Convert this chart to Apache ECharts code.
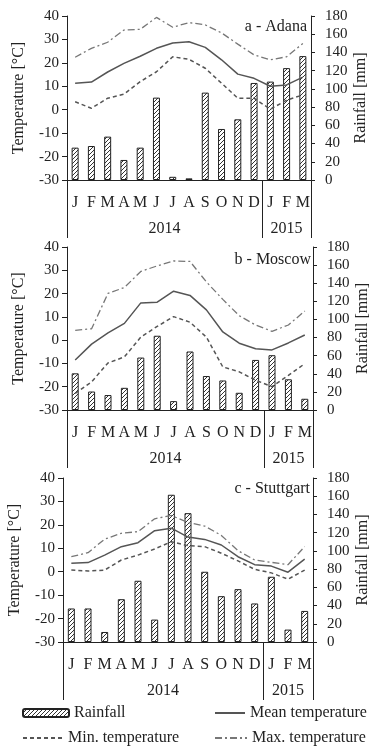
<!DOCTYPE html>
<html>
<head>
<meta charset="utf-8">
<script src="https://cdn.jsdelivr.net/npm/echarts@6/dist/echarts.min.js"></script>
<style>
  html, body { margin: 0; padding: 0; background: #fff; }
  #chart { width: 370px; height: 747px; }
</style>
</head>
<body>
<div id="chart"></div>
<script>
// Month initials along the bottom axis, Jan 2014 to Mar 2015
const months = ['J', 'F', 'M', 'A', 'M', 'J', 'J', 'A', 'S', 'O', 'N', 'D', 'J', 'F', 'M'];
const years = ['2014', '2015'];
const monthsPerYear = [12, 3];

const stations = ['a - Adana', 'b - Moscow', 'c - Stuttgart'];

// Axis ranges
const tempRange = [-30, 40];
const tempStep = 10;
const rainRange = [0, 180];
const rainStep = 20;

// Adana
const adanaRain = [35.5, 37.3, 47.6, 22, 35.5, 90.4, 3.5, 1.8, 95.9, 56, 66.6, 106.5, 108, 122.8, 136];
const adanaMean = [11.3, 11.8, 16.1, 19.8, 22.8, 26.2, 28.5, 29, 26.6, 21.3, 15.2, 13.4, 10, 10.6, 13.9];
const adanaMin = [3.4, 0.6, 4.9, 6.6, 12, 16.2, 22.6, 21.5, 17.7, 11.3, 4.9, 4.9, 0.2, 4.1, 6.3];
const adanaMax = [22.4, 26.2, 28.8, 34, 34.3, 39.4, 35.2, 37.2, 36.2, 32.8, 28, 23.4, 21.3, 22.6, 28.3];

// Moscow
const moscowRain = [40.5, 20.4, 16.5, 24.5, 57.9, 82, 9.8, 64.6, 37.5, 32.6, 19, 55.3, 60.5, 33.9, 12.4];
const moscowMean = [-8.5, -1.7, 3.1, 7.2, 16, 16.3, 21, 19.2, 13, 3.5, -1.3, -3.7, -4.2, -1.2, 2.2];
const moscowMin = [-22.9, -17.9, -9.8, -7.2, 1.3, 5.9, 10.1, 7.7, 1.3, -11.5, -13.6, -17.2, -20, -15.1, -10.1];
const moscowMax = [4.2, 4.9, 20.1, 22.6, 29.5, 31.9, 34, 33.8, 25, 17.5, 10.5, 6.5, 3.8, 6.5, 12.5];

// Stuttgart
const stuttgartRain = [36.8, 36.8, 11, 47, 67.2, 24.6, 161.6, 141.4, 77.1, 50.3, 58, 42.3, 71.6, 13.6, 34.1];
const stuttgartMean = [3.6, 3.9, 7.1, 10.7, 12.4, 17.5, 18.6, 14.8, 13.8, 11.4, 6.4, 3, 2.4, -0.2, 5.4];
const stuttgartMin = [0.7, 0.3, 0.7, 5, 7.1, 9.7, 12.8, 11.1, 10.7, 7.9, 4.6, 1, -0.5, -3.2, 0.7];
const stuttgartMax = [6.4, 8.1, 13.9, 16.4, 17.1, 22.6, 24, 21, 19.5, 15.5, 9, 5, 4, 3, 10.7];

const rainSets = [adanaRain, moscowRain, stuttgartRain];
const meanSets = [adanaMean, moscowMean, stuttgartMean];
const minSets = [adanaMin, moscowMin, stuttgartMin];
const maxSets = [adanaMax, moscowMax, stuttgartMax];

// Unique category keys (month letters repeat across the two years)
const categoryKeys = months.map((m, i) => 'm' + i);

const FONT = '"Liberation Serif", "Times New Roman", serif';
const INK = '#222';

// Diagonal hatch fill for the rainfall bars
function hatchPattern() {
  const s = 4;
  const c = document.createElement('canvas');
  c.width = s; c.height = s;
  const ctx = c.getContext('2d');
  ctx.fillStyle = '#fff';
  ctx.fillRect(0, 0, s, s);
  ctx.strokeStyle = '#333';
  ctx.lineWidth = 1;
  ctx.beginPath();
  ctx.moveTo(0, s); ctx.lineTo(s, 0);
  ctx.moveTo(-1, 1); ctx.lineTo(1, -1);
  ctx.moveTo(s - 1, s + 1); ctx.lineTo(s + 1, s - 1);
  ctx.stroke();
  return { image: c, repeat: 'repeat' };
}
const hatch = hatchPattern();

const panels = [
  { left: 67, top: 16, width: 244, height: 164, titleRight: 63, titleTop: 19 },
  { left: 67, top: 247, width: 246, height: 163, titleRight: 59, titleTop: 252 },
  { left: 63, top: 478, width: 250, height: 164, titleRight: 60, titleTop: 481 }
];

const grid = [], xAxis = [], yAxis = [], series = [], title = [];

panels.forEach((p, k) => {
  grid.push({
    left: p.left, top: p.top, width: p.width, height: p.height,
    containLabel: false, outerBoundsMode: 'none'
  });
  title.push({
    text: stations[k], right: p.titleRight, top: p.titleTop, padding: 0,
    textStyle: { fontFamily: FONT, fontSize: 16, fontWeight: 'normal', color: INK }
  });
  xAxis.push({
    type: 'category', gridIndex: k, data: categoryKeys, boundaryGap: true,
    axisLine: { show: true, onZero: false, lineStyle: { color: INK, width: 1 } },
    axisTick: { show: false },
    axisLabel: {
      interval: 0, margin: 15, color: INK, fontFamily: FONT, fontSize: 16,
      formatter: (v, i) => months[i]
    },
    splitLine: { show: false }
  });
  yAxis.push({
    type: 'value', gridIndex: k, position: 'left',
    min: tempRange[0], max: tempRange[1], interval: tempStep,
    name: 'Temperature [°C]', nameLocation: 'middle', nameRotate: 90, nameGap: 40,
    nameMoveOverlap: false,
    nameTextStyle: { fontFamily: FONT, fontSize: 16, color: INK },
    axisLine: { show: true, onZero: false, lineStyle: { color: INK, width: 1 } },
    axisTick: { show: true, length: 5, lineStyle: { color: INK } },
    axisLabel: { margin: 8, color: INK, fontFamily: FONT, fontSize: 15 },
    splitLine: { show: false }
  });
  yAxis.push({
    type: 'value', gridIndex: k, position: 'right',
    min: rainRange[0], max: rainRange[1], interval: rainStep,
    name: 'Rainfall [mm]', nameLocation: 'middle', nameRotate: 90, nameGap: 42,
    nameMoveOverlap: false,
    nameTextStyle: { fontFamily: FONT, fontSize: 16, color: INK },
    axisLine: { show: true, onZero: false, lineStyle: { color: INK, width: 1 } },
    axisTick: { show: true, length: 4, lineStyle: { color: INK } },
    axisLabel: { margin: 14, color: INK, fontFamily: FONT, fontSize: 15 },
    splitLine: { show: false }
  });
  series.push({
    name: 'Rainfall', type: 'bar', xAxisIndex: k, yAxisIndex: 2 * k + 1,
    data: rainSets[k], barWidth: 7,
    itemStyle: { color: hatch, borderColor: INK, borderWidth: 1 },
    z: 1
  });
  series.push({
    name: 'Mean temperature', type: 'line', xAxisIndex: k, yAxisIndex: 2 * k,
    data: meanSets[k], symbol: 'none', itemStyle: { color: '#555' },
    lineStyle: { color: '#555', width: 1.5, type: 'solid' }, z: 3
  });
  series.push({
    name: 'Min. temperature', type: 'line', xAxisIndex: k, yAxisIndex: 2 * k,
    data: minSets[k], symbol: 'none', itemStyle: { color: '#555' },
    lineStyle: { color: '#555', width: 1.5, type: [4, 3] }, z: 3
  });
  series.push({
    name: 'Max. temperature', type: 'line', xAxisIndex: k, yAxisIndex: 2 * k,
    data: maxSets[k], symbol: 'none', itemStyle: { color: '#777' },
    lineStyle: { color: '#777', width: 1.3, type: [7, 3, 2, 3] }, z: 3
  });
});

const legendText = { fontFamily: FONT, fontSize: 16, color: INK };
const lineLegend = { padding: 0, itemHeight: 14, textStyle: legendText, selectedMode: false, itemStyle: { opacity: 0 } };
const legend = [
  { data: ['Rainfall'], left: 22, top: 705, itemWidth: 46, itemHeight: 8, padding: 0, textStyle: legendText, selectedMode: false },
  Object.assign({ data: ['Mean temperature'], left: 214, top: 705, itemWidth: 30 }, lineLegend),
  Object.assign({ data: ['Min. temperature'], left: 22, top: 730, itemWidth: 40 }, lineLegend),
  Object.assign({ data: ['Max. temperature'], left: 214, top: 730, itemWidth: 32 }, lineLegend)
];

const chart = echarts.init(document.getElementById('chart'));
chart.setOption({
  backgroundColor: '#fff',
  animation: false,
  title, grid, xAxis, yAxis, series, legend
});

// Year row beneath each panel: separators and year labels, placed from the axis scales
const graphic = [];
const crisp = v => Math.round(v) + 0.5;
panels.forEach((p, k) => {
  const c0 = chart.convertToPixel({ xAxisIndex: k }, categoryKeys[0]);
  const c1 = chart.convertToPixel({ xAxisIndex: k }, categoryKeys[1]);
  const band = c1 - c0;
  const axisY = chart.convertToPixel({ yAxisIndex: 2 * k }, tempRange[0]);
  const bounds = [c0 - band / 2];
  let acc = 0;
  monthsPerYear.forEach(n => { acc += n; bounds.push(c0 - band / 2 + acc * band); });
  bounds.forEach(x => {
    graphic.push({
      type: 'line', silent: true,
      shape: { x1: crisp(x), y1: axisY, x2: crisp(x), y2: axisY + 58 },
      style: { stroke: INK, lineWidth: 1 }
    });
  });
  years.forEach((y, i) => {
    graphic.push({
      type: 'text', silent: true,
      x: (bounds[i] + bounds[i + 1]) / 2, y: axisY + 49,
      style: { text: y, fill: INK, font: '16px ' + FONT, align: 'center', verticalAlign: 'middle' }
    });
  });
});
chart.setOption({ graphic });
</script>
</body>
</html>
